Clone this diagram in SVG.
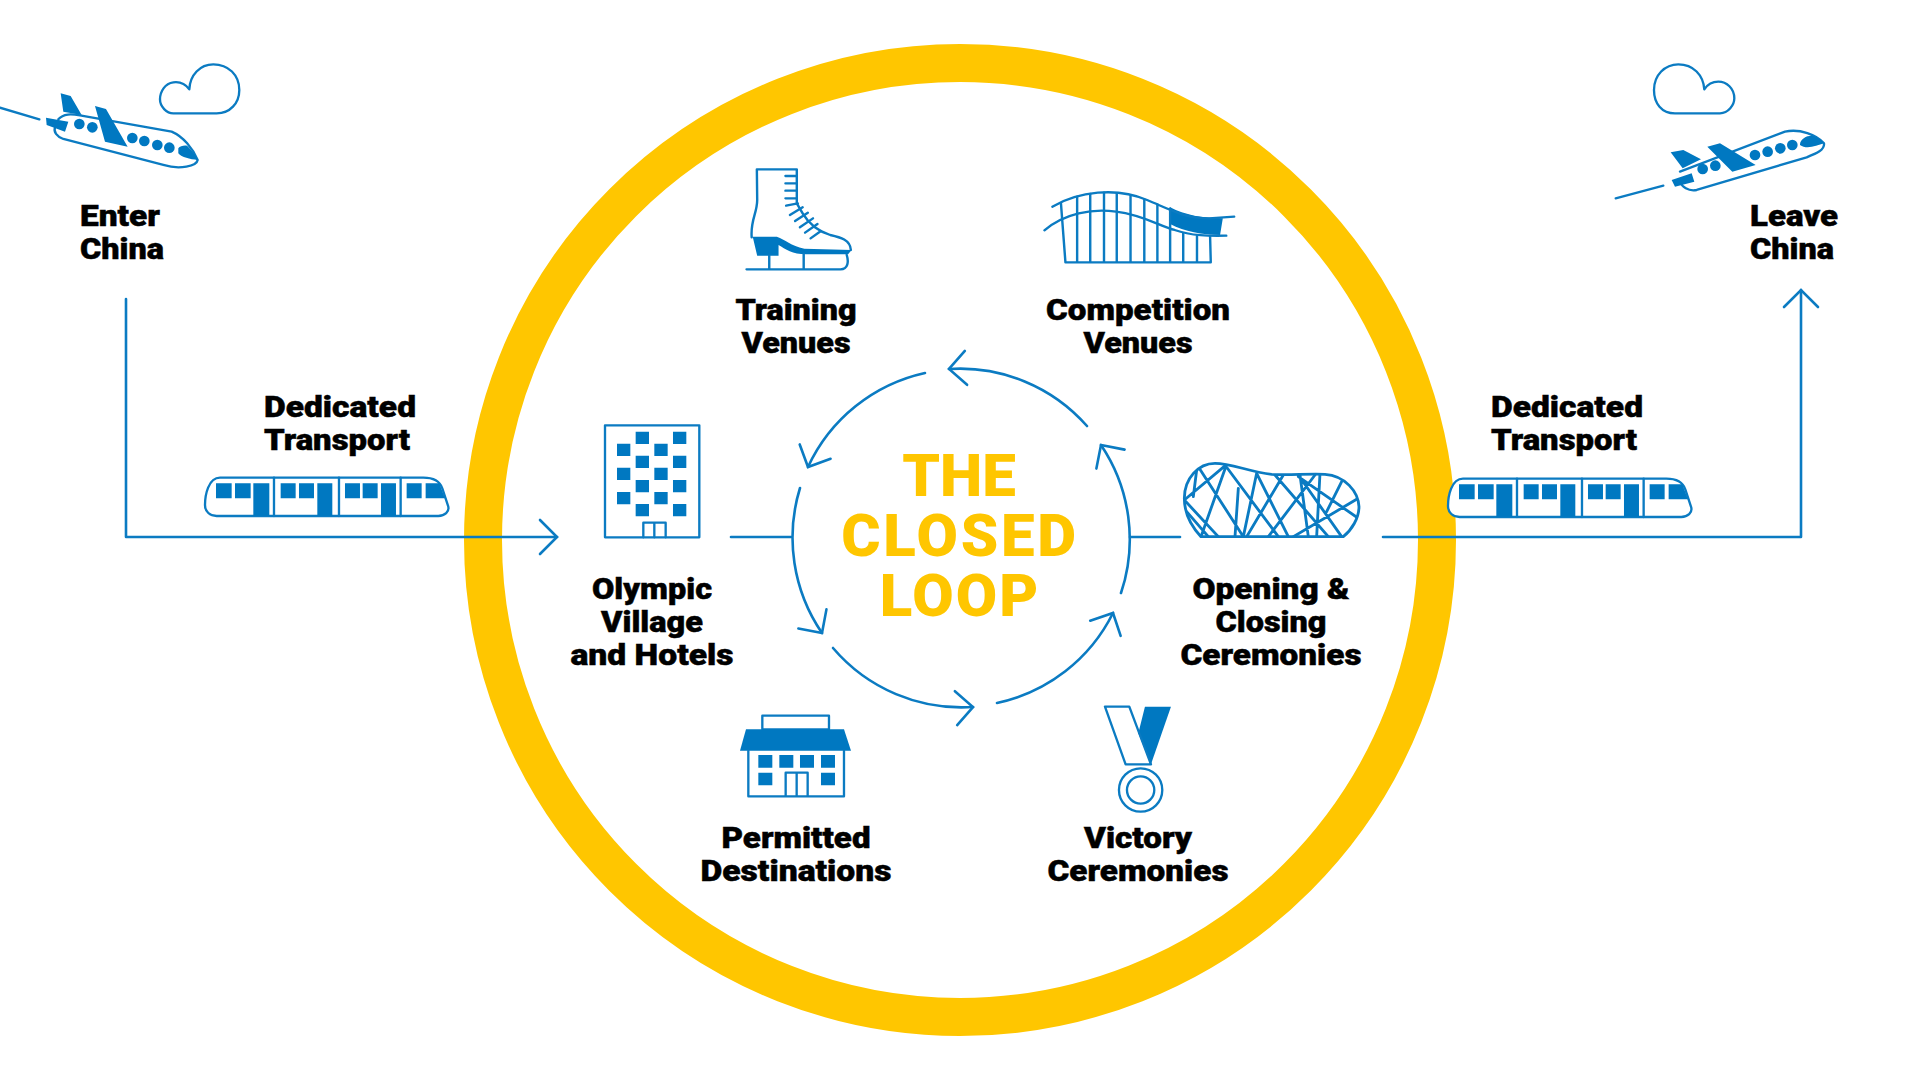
<svg xmlns="http://www.w3.org/2000/svg" width="1920" height="1080" viewBox="0 0 1920 1080">
  <style>
    .lb { font-family: Roboto, "Liberation Sans", sans-serif; font-weight: 900; font-size: 30px; fill: #000; stroke: #000; stroke-width: 0.5; }
    .c { text-anchor: middle; }
    .title { font-family: Roboto, "Liberation Sans", sans-serif; font-weight: 900; font-size: 60px; fill: #ffc600; text-anchor: middle; }
    .ln { fill: none; stroke: #0b7bc2; stroke-width: 2.6; stroke-linecap: round; stroke-linejoin: round; }
    .z3 { fill: none; stroke: #0b7bc2; stroke-width: 7; stroke-linejoin: round; stroke-linecap: round; }
    .z4 { fill: none; stroke: #0b7bc2; stroke-width: 8.5; stroke-linejoin: round; stroke-linecap: round; }
    .f { fill: #0078c1; stroke: none; }
    .wf { fill: #fff; }
  </style>
  <defs>
    <marker id="head" markerUnits="userSpaceOnUse" markerWidth="44" markerHeight="44" refX="22" refY="22" orient="auto" overflow="visible">
      <path d="M5,5 L22,22 L5,39" fill="none" stroke="#0b7bc2" stroke-width="2.6" stroke-linecap="round" stroke-linejoin="miter"/>
    </marker>
    <clipPath id="nest-clip">
      <path d="M78,245 C45,210 28,170 28,130 C28,70 70,25 120,25 C170,25 220,50 290,58 C340,62 400,55 450,58 C510,62 550,110 552,155 C552,190 530,225 505,245 Z"/>
    </clipPath>
    <g id="train">
      <path class="z3 wf" d="M90,233 H700 C730,233 750,245 757,265 L775,320 C778,335 765,348 745,348 H80 C60,348 45,335 45,315 C45,285 55,233 90,233 Z"/>
      <path class="z3" d="M252,233 V348 M447,233 V348 M632,233 V348"/>
      <path class="f" d="M78,250 h47 v45 h-47 Z M135,250 h47 v45 h-47 Z M190,250 h48 v98 h-48 Z M272,250 h45 v45 h-45 Z M327,250 h45 v45 h-45 Z M382,250 h45 v98 h-45 Z M465,250 h45 v45 h-45 Z M518,250 h45 v45 h-45 Z M573,250 h45 v98 h-45 Z M650,250 h45 v45 h-45 Z M707,250 H748 L765,295 H707 Z"/>
    </g>
  </defs>

  <rect width="1920" height="1080" fill="#fff"/>
  <circle id="ring" cx="960" cy="540" r="477" fill="none" stroke="#ffc600" stroke-width="38"/>

  <g id="connectors">
    <path class="ln" d="M126,299 V537 H557" marker-end="url(#head)"/>
    <path class="ln" d="M731,537 H791"/>
    <path class="ln" d="M1130,537 H1180"/>
    <path class="ln" d="M1383,537 H1801 V290" marker-end="url(#head)"/>
    <path class="ln" d="M1087,426 A169,169 0 0 0 949,369" marker-end="url(#head)"/>
    <path class="ln" d="M925,373 A169,169 0 0 0 808,467" marker-end="url(#head)"/>
    <path class="ln" d="M800,488 A169,169 0 0 0 822,633" marker-end="url(#head)"/>
    <path class="ln" d="M833,648 A169,169 0 0 0 973,707" marker-end="url(#head)"/>
    <path class="ln" d="M997,703 A169,169 0 0 0 1113,613" marker-end="url(#head)"/>
    <path class="ln" d="M1121,593 A169,169 0 0 0 1101,445" marker-end="url(#head)"/>
  </g>

  <g id="enter-china">
    <g transform="translate(0,40) scale(0.3333)">
      <path class="z3" d="M0,203 L118,238"/>
      <path class="z3" d="M175,238 C190,220 215,222 240,226 L515,275 C550,290 578,325 593,360 C590,378 540,390 490,375 L190,297 C170,290 160,275 165,262"/>
      <path class="f" d="M182,160 L212,168 L245,225 L190,215 Z M285,198 L318,207 L383,320 L315,305 Z M138,233 L205,245 L195,275 L140,255 Z M535,325 C540,318 555,315 562,318 C575,330 585,345 593,360 C570,358 545,352 535,340 Z"/>
      <g class="f"><circle cx="238" cy="252" r="16"/><circle cx="277" cy="262" r="16"/><circle cx="397" cy="294" r="16"/><circle cx="433" cy="303" r="16"/><circle cx="472" cy="315" r="16"/><circle cx="508" cy="323" r="16"/></g>
      <path class="z3" d="M520,220 H650 C690,220 718,190 718,150 C718,105 685,73 640,73 C600,73 570,105 568,148 C555,130 535,125 520,127 C495,130 480,155 480,178 C480,200 500,220 520,220 Z"/>
    </g>
    <text class="lb" x="80" y="226" textLength="80" lengthAdjust="spacingAndGlyphs">Enter</text>
    <text class="lb" x="80" y="259" textLength="84" lengthAdjust="spacingAndGlyphs">China</text>
  </g>

  <g id="leave-china">
    <g transform="translate(1600,50) scale(0.3333)">
      <path class="z3" d="M47,445 L190,407"/>
      <path class="z3" d="M240,365 L555,245 C600,235 650,255 672,280 C675,300 650,310 620,322 L290,420 C265,425 245,410 240,395"/>
      <path class="f" d="M212,307 L250,300 L303,328 L248,355 Z M322,290 L360,280 L467,345 L397,365 Z M215,390 L275,370 L283,395 L225,410 Z M600,285 C600,265 625,255 640,258 C655,262 665,270 672,280 C650,287 620,300 600,285 Z"/>
      <g class="f"><circle cx="308" cy="357" r="16"/><circle cx="346" cy="347" r="16"/><circle cx="465" cy="315" r="16"/><circle cx="503" cy="305" r="16"/><circle cx="541" cy="295" r="16"/><circle cx="577" cy="285" r="16"/></g>
      <path class="z3" d="M225,190 H360 C385,190 403,165 403,145 C403,115 380,95 355,95 C340,95 325,100 313,118 C310,75 280,43 235,43 C195,43 162,75 162,120 C162,160 185,190 225,190 Z"/>
    </g>
    <text class="lb" x="1750" y="226" textLength="88" lengthAdjust="spacingAndGlyphs">Leave</text>
    <text class="lb" x="1750" y="259" textLength="84" lengthAdjust="spacingAndGlyphs">China</text>
  </g>

  <g id="transport-in">
    <text class="lb" x="264" y="417" textLength="152" lengthAdjust="spacingAndGlyphs">Dedicated</text>
    <text class="lb" x="264" y="450" textLength="146" lengthAdjust="spacingAndGlyphs">Transport</text>
    <use href="#train" transform="translate(190,400) scale(0.3333)"/>
  </g>

  <g id="transport-out">
    <text class="lb" x="1491" y="417" textLength="152" lengthAdjust="spacingAndGlyphs">Dedicated</text>
    <text class="lb" x="1491" y="450" textLength="146" lengthAdjust="spacingAndGlyphs">Transport</text>
    <use href="#train" transform="translate(1433,401) scale(0.3333)"/>
  </g>

  <g id="training-venues">
    <g transform="translate(720,150) scale(0.3444,0.3333)">
      <path class="z3" d="M107,58 H223 V160 L240,190 C260,225 290,245 320,255 C350,262 378,270 380,300 M107,58 L108,150 C108,190 88,210 92,262"/>
      <path class="f" d="M95,260 H165 C190,268 205,288 245,296 L382,300 L372,313 H250 C210,313 190,297 170,285 V317 H108 Z"/>
      <path class="z3" d="M143,316 V358 M243,312 V358 M77,358 H350 C372,358 374,335 368,315"/>
      <path class="z3" d="M190,78 H223 M190,100 H223 M190,122 H223 M190,145 H223 M192,167 L226,160 M203,195 L240,172 M218,213 L255,188 M232,232 L270,205 M247,248 L283,222 M263,265 L293,243"/>
    </g>
    <text class="lb c" x="796" y="320" textLength="121" lengthAdjust="spacingAndGlyphs">Training</text>
    <text class="lb c" x="796" y="353" textLength="109" lengthAdjust="spacingAndGlyphs">Venues</text>
  </g>

  <g id="competition-venues">
    <g transform="translate(720,150) scale(0.3444,0.3333)">
      <path class="f" d="M1307,172 C1350,195 1400,205 1460,205 L1452,255 C1400,255 1350,245 1307,222 Z"/>
      <path class="z3" d="M965,170 C1040,125 1150,110 1240,150 C1310,180 1350,205 1420,205 L1493,200 M942,241 C1000,190 1080,175 1150,185 C1230,195 1280,230 1320,240 C1370,258 1420,258 1470,257"/>
      <path class="z3" d="M990,160 L1003,337 H1425 L1423,258 M1037,140 V337 M1075,132 V337 M1115,128 V337 M1152,130 V337 M1192,138 V337 M1232,148 V337 M1270,163 V337 M1307,175 V337 M1345,250 V337 M1385,258 V337"/>
    </g>
    <text class="lb c" x="1138" y="320" textLength="184" lengthAdjust="spacingAndGlyphs">Competition</text>
    <text class="lb c" x="1138" y="353" textLength="109" lengthAdjust="spacingAndGlyphs">Venues</text>
  </g>

  <g id="olympic-village">
    <g transform="translate(590,410) scale(0.3333)">
      <rect class="z3" x="45" y="46" width="283" height="336"/>
      <path class="z3" d="M160,382 V338 H227 V382 M193,338 V382"/>
      <path class="f" d="M137,65 h40 v37 h-40 Z M137,137 h40 v37 h-40 Z M137,210 h40 v37 h-40 Z M137,282 h40 v37 h-40 Z M249,65 h40 v37 h-40 Z M249,137 h40 v37 h-40 Z M249,210 h40 v37 h-40 Z M249,282 h40 v37 h-40 Z M81,101 h40 v37 h-40 Z M81,173 h40 v37 h-40 Z M81,246 h40 v37 h-40 Z M193,101 h40 v37 h-40 Z M193,173 h40 v37 h-40 Z M193,246 h40 v37 h-40 Z"/>
    </g>
    <text class="lb c" x="652" y="599" textLength="120" lengthAdjust="spacingAndGlyphs">Olympic</text>
    <text class="lb c" x="652" y="632" textLength="102" lengthAdjust="spacingAndGlyphs">Village</text>
    <text class="lb c" x="652" y="665" textLength="163" lengthAdjust="spacingAndGlyphs">and Hotels</text>
  </g>

  <g id="opening-closing">
    <g transform="translate(1175,455) scale(0.3333)">
      <g clip-path="url(#nest-clip)">
        <path class="z4" d="M68,32 L205,245 M155,28 L28,135 M155,28 L78,245 M65,45 L55,125 M28,135 L130,245 M35,170 L100,245 M150,30 L310,245 M190,100 L180,245 M245,55 L205,245 M245,55 L340,245 M325,60 L215,245 M370,60 L500,245 M375,60 L400,245 M435,55 L425,245 M420,60 L280,245 M500,80 L455,170 M550,130 L355,245 M370,65 L550,190 M300,60 L460,245"/>
      </g>
      <path class="z4" d="M78,245 C45,210 28,170 28,130 C28,70 70,25 120,25 C170,25 220,50 290,58 C340,62 400,55 450,58 C510,62 550,110 552,155 C552,190 530,225 505,245 Z"/>
    </g>
    <text class="lb c" x="1271" y="599" textLength="157" lengthAdjust="spacingAndGlyphs">Opening &amp;</text>
    <text class="lb c" x="1271" y="632" textLength="111" lengthAdjust="spacingAndGlyphs">Closing</text>
    <text class="lb c" x="1271" y="665" textLength="181" lengthAdjust="spacingAndGlyphs">Ceremonies</text>
  </g>

  <g id="permitted-destinations">
    <g transform="translate(720,700) scale(0.3333)">
      <rect class="z3" x="127" y="47" width="200" height="41"/>
      <path class="f" d="M78,88 H372 L393,152 H60 Z"/>
      <path class="z3" d="M85,152 V289 H372 V152 M197,289 V218 H263 V289 M230,218 V289"/>
      <path class="f" d="M115,165 h42 v38 h-42 Z M178,165 h42 v38 h-42 Z M240,165 h42 v38 h-42 Z M303,165 h42 v38 h-42 Z M115,218 h42 v38 h-42 Z M303,218 h42 v38 h-42 Z"/>
    </g>
    <text class="lb c" x="796" y="848" textLength="149" lengthAdjust="spacingAndGlyphs">Permitted</text>
    <text class="lb c" x="796" y="881" textLength="191" lengthAdjust="spacingAndGlyphs">Destinations</text>
  </g>

  <g id="victory-ceremonies">
    <g transform="translate(720,700) scale(0.3333)">
      <path class="f" d="M1275,20 H1353 L1293,193 L1255,100 Z"/>
      <path class="z3" d="M1155,20 H1228 L1293,193 H1217 Z"/>
      <circle class="z3" cx="1262" cy="270" r="65"/>
      <circle class="z3" cx="1262" cy="270" r="41"/>
    </g>
    <text class="lb c" x="1138" y="848" textLength="108" lengthAdjust="spacingAndGlyphs">Victory</text>
    <text class="lb c" x="1138" y="881" textLength="181" lengthAdjust="spacingAndGlyphs">Ceremonies</text>
  </g>

  <g id="closed-loop">
    <text class="title"><tspan x="959" y="496">THE</tspan><tspan x="960" y="556" letter-spacing="2.7">CLOSED</tspan><tspan x="960" y="616" letter-spacing="2">LOOP</tspan></text>
  </g>
</svg>
